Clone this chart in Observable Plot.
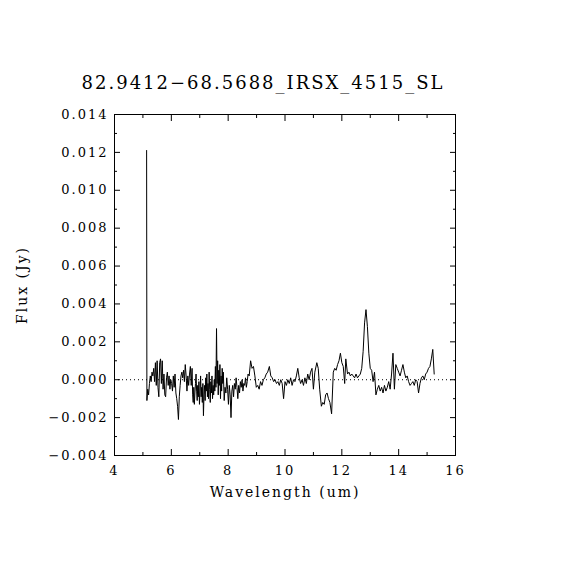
<!DOCTYPE html>
<html>
<head>
<meta charset="utf-8">
<script src="https://cdn.jsdelivr.net/npm/d3@7"></script>
<script src="https://cdn.jsdelivr.net/npm/@observablehq/plot@0.6"></script>
<style>
  html, body { margin: 0; padding: 0; background: #fff; }
</style>
</head>
<body>
<div id="chart"></div>
<script>
const title = "82.9412\u221268.5688_IRSX_4515_SL";
const xLabel = "Wavelength (um)";
const yLabel = "Flux (Jy)";

const xMajorTicks = [4, 6, 8, 10, 12, 14, 16];
const xMinorTicks = [5, 7, 9, 11, 13, 15];
const yMajorTicks = [-0.004, -0.002, 0, 0.002, 0.004, 0.006, 0.008, 0.010, 0.012, 0.014];
const yMinorTicks = [-0.003, -0.001, 0.001, 0.003, 0.005, 0.007, 0.009, 0.011, 0.013];

const wavelength = [
  5.13, 5.14, 5.17, 5.20, 5.23, 5.26, 5.29, 5.32, 5.35, 5.38, 5.41, 5.44, 5.47, 5.50, 5.53, 5.56, 5.59, 5.62, 5.65, 5.68,
  5.71, 5.74, 5.77, 5.80, 5.83, 5.86, 5.89, 5.92, 5.95, 5.98, 6.01, 6.04, 6.07, 6.10, 6.13, 6.16, 6.19, 6.22, 6.25, 6.28,
  6.31, 6.34, 6.37, 6.40, 6.43, 6.46, 6.49, 6.52, 6.55, 6.58, 6.61, 6.64, 6.67, 6.70, 6.73,
  6.75, 6.77, 6.79, 6.81, 6.83, 6.85, 6.87, 6.89, 6.91, 6.93, 6.95, 6.97, 6.99, 7.01, 7.03, 7.05, 7.07, 7.09, 7.11,
  7.13, 7.15, 7.17, 7.19, 7.21, 7.23, 7.25, 7.27, 7.29, 7.31, 7.33, 7.35, 7.37, 7.39, 7.41, 7.43, 7.45, 7.47, 7.49, 7.51,
  7.53, 7.55, 7.57, 7.59, 7.61, 7.63, 7.65, 7.67, 7.69, 7.71, 7.73, 7.75, 7.77, 7.79, 7.81, 7.83, 7.86, 7.89, 7.92, 7.95,
  7.98, 8.01, 8.04, 8.07, 8.10, 8.13, 8.16, 8.19, 8.22, 8.25, 8.28, 8.31, 8.34, 8.37, 8.40, 8.43, 8.46, 8.49, 8.52, 8.55,
  8.58, 8.61, 8.64, 8.67, 8.70, 8.74, 8.79, 8.84, 8.89, 8.94, 8.99, 9.04, 9.09, 9.14, 9.19, 9.24, 9.29, 9.34, 9.39, 9.45,
  9.50, 9.55, 9.60, 9.65, 9.70, 9.75, 9.80, 9.85, 9.90, 9.95, 10.00, 10.05, 10.10, 10.15, 10.20, 10.25, 10.30, 10.35, 10.40, 10.45,
  10.50, 10.55, 10.60, 10.65, 10.70, 10.75, 10.80, 10.85, 10.90, 10.95, 11.00, 11.05, 11.12, 11.17, 11.22, 11.28, 11.33, 11.38, 11.43, 11.48,
  11.53, 11.58, 11.64, 11.70, 11.75, 11.80, 11.85, 11.90, 11.95, 12.00, 12.05, 12.10, 12.14, 12.20, 12.25, 12.30, 12.35, 12.40, 12.45, 12.50,
  12.55, 12.60, 12.65, 12.70, 12.75, 12.80, 12.85, 12.90, 12.95, 13.00, 13.05, 13.10, 13.15, 13.20, 13.25, 13.30, 13.35, 13.40, 13.45, 13.50,
  13.55, 13.60, 13.65, 13.70, 13.75, 13.80, 13.85, 13.90, 13.95, 14.00, 14.05, 14.10, 14.15, 14.20, 14.25, 14.30, 14.35, 14.40, 14.45, 14.50,
  14.55, 14.60, 14.65, 14.70, 14.75, 14.80, 14.85, 14.90, 14.95, 15.00, 15.05, 15.10, 15.15, 15.20, 15.25
];

const flux = [
  0.0121, -0.0011, -0.0005, -0.0008, -0.0002, 0.0002, -0.0001, 0.0004, 0.0002, 0.0006, -0.0001, 0.0009, -0.0003, 0.0010, -0.0004, -0.0009, 0.0009, 0.0011, -0.0002, 0.0010,
  -0.0005, 0.0003, -0.0008, -0.0009, 0.0001, 0.0004, -0.0003, 0.0002, -0.0005, 0.0000, -0.0002, -0.0006, 0.0002, -0.0004, 0.0003, -0.0007, -0.0010, -0.0014, -0.0021, -0.0009,
  -0.0003, 0.0002, 0.0004, 0.0001, 0.0005, -0.0001, 0.0008, 0.0002, -0.0006, 0.0002, -0.0003, 0.0003, 0.0007, -0.0003, 0.0006,
  -0.0008, -0.0012, -0.0004, -0.0013, -0.0007, -0.0002, 0.0003, -0.0006, -0.0011, -0.0003, -0.0009, -0.0001, -0.0013, -0.0006, 0.0002, -0.0009, -0.0004, -0.0012, -0.0002,
  -0.0019, -0.0008, -0.0003, -0.0011, 0.0001, -0.0006, 0.0003, -0.0009, -0.0002, -0.0010, 0.0004, -0.0005, -0.0012, -0.0001, -0.0007, 0.0002, -0.0010, -0.0003, -0.0008, 0.0000,
  -0.0006, 0.0007, -0.0004, 0.0027, -0.0002, 0.0010, -0.0008, 0.0005, -0.0003, 0.0008, -0.0010, 0.0002, -0.0006, 0.0006, -0.0002, 0.0004, -0.0011, -0.0004, -0.0007, 0.0001,
  -0.0005, -0.0013, -0.0003, -0.0008, -0.0020, -0.0006, -0.0003, -0.0009, -0.0002, -0.0005, 0.0001, -0.0004, -0.0010, -0.0003, -0.0007, -0.0001, -0.0004, 0.0000, -0.0006, -0.0002,
  -0.0003, 0.0001, -0.0004, -0.0001, 0.0003, 0.0002, 0.0010, 0.0006, 0.0007, 0.0002, -0.0004, -0.0003, -0.0005, -0.0001, -0.0003, 0.0000, 0.0001, 0.0003, 0.0004, 0.0007,
  0.0002, 0.0001, -0.0001, 0.0000, -0.0002, -0.0001, -0.0003, 0.0000, -0.0002, -0.0010, -0.0001, -0.0003, 0.0000, -0.0002, 0.0001, -0.0003, 0.0000, -0.0001, 0.0002, 0.0006,
  0.0001, -0.0002, 0.0000, -0.0003, 0.0001, -0.0002, 0.0003, 0.0000, 0.0004, 0.0006, -0.0005, 0.0004, 0.0009, 0.0006, -0.0005, -0.0014, -0.0012, -0.0013, -0.0008, -0.0007,
  -0.0010, -0.0012, -0.0018, 0.0004, 0.0006, 0.0005, 0.0008, 0.0010, 0.0014, 0.0009, 0.0007, -0.0002, 0.0011, 0.0003, 0.0004, 0.0002, 0.0003, 0.0002, 0.0001, 0.0003,
  0.0001, 0.0002, 0.0003, 0.0006, 0.0015, 0.0030, 0.0037, 0.0028, 0.0014, 0.0006, 0.0005, -0.0001, 0.0004, -0.0008, -0.0005, -0.0003, -0.0006, -0.0004, -0.0007, -0.0003,
  -0.0006, -0.0004, -0.0001, -0.0005, 0.0003, 0.0014, -0.0005, 0.0008, 0.0006, 0.0004, 0.0002, 0.0005, 0.0008, 0.0004, 0.0001, 0.0002, -0.0001, -0.0003, -0.0002, -0.0001,
  -0.0003, 0.0000, -0.0001, -0.0007, -0.0002, 0.0001, 0.0002, 0.0000, 0.0003, 0.0004, 0.0006, 0.0007, 0.0011, 0.0016, 0.0003
];

const data = wavelength.map((w, i) => ({w, f: flux[i]}));
const fmt = d3.format(".3f");

const chart = Plot.plot({
  width: 570,
  height: 570,
  marginLeft: 114,
  marginRight: 115,
  marginTop: 114,
  marginBottom: 115,
  style: {fontFamily: "DejaVu Serif", fontSize: "13px", letterSpacing: "2px", background: "#fff", color: "#000"},
  x: {domain: [4, 16]},
  y: {domain: [-0.004, 0.014]},
  marks: [
    Plot.ruleY([0], {stroke: "#000", strokeDasharray: "1,3", strokeWidth: 1}),
    Plot.line(data, {x: "w", y: "f", stroke: "#000", strokeWidth: 1}),
    Plot.frame({stroke: "#000", strokeWidth: 1}),
    Plot.axisX({anchor: "bottom", ticks: xMajorTicks, tickSize: 0, tickPadding: 10, tickFormat: d => String(d), label: null}),
    Plot.axisX({anchor: "bottom", ticks: xMajorTicks, tickSize: -6, tickFormat: () => "", label: null}),
    Plot.axisX({anchor: "bottom", ticks: xMinorTicks, tickSize: -3, tickFormat: () => "", label: null}),
    Plot.axisX({anchor: "top", ticks: xMajorTicks, tickSize: -6, tickFormat: () => "", label: null}),
    Plot.axisX({anchor: "top", ticks: xMinorTicks, tickSize: -3, tickFormat: () => "", label: null}),
    Plot.axisY({anchor: "left", ticks: yMajorTicks, tickSize: 0, tickPadding: 6, tickFormat: fmt, label: null}),
    Plot.axisY({anchor: "left", ticks: yMajorTicks, tickSize: -6, tickFormat: () => "", label: null}),
    Plot.axisY({anchor: "left", ticks: yMinorTicks, tickSize: -3, tickFormat: () => "", label: null}),
    Plot.axisY({anchor: "right", ticks: yMajorTicks, tickSize: -6, tickFormat: () => "", label: null}),
    Plot.axisY({anchor: "right", ticks: yMinorTicks, tickSize: -3, tickFormat: () => "", label: null}),
    Plot.text([title], {text: d => d, frameAnchor: "top", dx: -22, dy: -31, lineAnchor: "middle", textAnchor: "middle", fontSize: 18, fill: "#000"}),
    Plot.text([xLabel], {text: d => d, frameAnchor: "bottom", dy: 37, lineAnchor: "middle", textAnchor: "middle", fontSize: 14, fill: "#000"}),
    Plot.text([yLabel], {text: d => d, frameAnchor: "left", dx: -92, rotate: -90, lineAnchor: "middle", textAnchor: "middle", fontSize: 14, fill: "#000"})
  ]
});
document.getElementById("chart").appendChild(chart);
</script>
</body>
</html>
